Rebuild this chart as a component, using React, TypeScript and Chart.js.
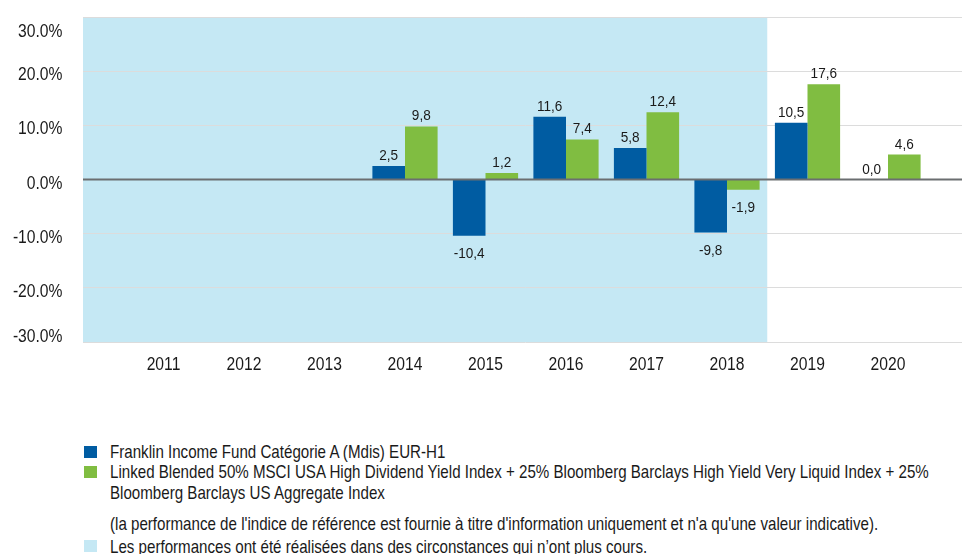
import React, { useEffect, useRef } from "react";
import { Chart, registerables } from "chart.js";

Chart.register(...registerables);

const years = ["", "2011", "2012", "2013", "2014", "2015", "2016", "2017", "2018", "2019", "2020", ""];
const fundValues: (number | null)[] = [null, null, null, null, 2.5, -10.4, 11.6, 5.8, -9.8, 10.5, 0.0, null];
const indexValues: (number | null)[] = [null, null, null, null, 9.8, 1.2, 7.4, 12.4, -1.9, 17.6, 4.6, null];
const shadedUntil = "2018";
const yTicks = [-30, -20, -10, 0, 10, 20, 30];

const fundLabel = "Franklin Income Fund Catégorie A (Mdis) EUR-H1";
const indexLabelLine1 =
  "Linked Blended 50% MSCI USA High Dividend Yield Index + 25% Bloomberg Barclays High Yield Very Liquid Index + 25%";
const indexLabelLine2 = "Bloomberg Barclays US Aggregate Index";
const noteText =
  "(la performance de l'indice de référence est fournie à titre d'information uniquement et n'a qu'une valeur indicative).";
const shadedLabel = "Les performances ont été réalisées dans des circonstances qui n’ont plus cours.";

const BLUE = "#005ca2";
const GREEN = "#80bd41";
const SHADE = "#c5e8f4";
const TEXT = "#1a1a1a";
const FONT = "'Liberation Sans', Arial, Helvetica, sans-serif";
const TICK_FONT = `18px ${FONT}`;
const TICK_SCALE = 0.87;
const VALUE_FONT = `14px ${FONT}`;

function drawText(ctx: CanvasRenderingContext2D, text: string, x: number, y: number, align: CanvasTextAlign, sx: number) {
  ctx.save();
  ctx.translate(x, y);
  ctx.scale(sx, 1);
  ctx.textAlign = align;
  ctx.textBaseline = "alphabetic";
  ctx.fillText(text, 0, 0);
  ctx.restore();
}

const shadePlugin = {
  id: "shade",
  beforeDraw(chart: any) {
    const { ctx, chartArea, scales } = chart;
    const idx = years.indexOf(shadedUntil);
    const xEnd = (scales.x.getPixelForValue(idx) + scales.x.getPixelForValue(idx + 1)) / 2;
    ctx.save();
    ctx.fillStyle = SHADE;
    ctx.fillRect(chartArea.left, chartArea.top, xEnd - chartArea.left, chartArea.bottom - chartArea.top);
    ctx.restore();
  },
};

const zeroLinePlugin = {
  id: "zeroLine",
  afterDatasetsDraw(chart: any) {
    const { ctx, chartArea, scales } = chart;
    const y = scales.y.getPixelForValue(0);
    ctx.save();
    ctx.strokeStyle = "#6b6e70";
    ctx.lineWidth = 2;
    ctx.beginPath();
    ctx.moveTo(chartArea.left, y);
    ctx.lineTo(chartArea.right, y);
    ctx.stroke();
    ctx.restore();
  },
};

const axisLabelPlugin = {
  id: "axisLabels",
  afterDraw(chart: any) {
    const { ctx, chartArea, scales } = chart;
    ctx.save();
    ctx.fillStyle = TEXT;
    ctx.font = TICK_FONT;
    const last = yTicks.length - 1;
    yTicks.forEach((v, i) => {
      const gy = scales.y.getPixelForValue(v);
      let by = gy + 9;
      if (i === last) by = chartArea.top + 19.5;
      if (i === 0) by = chartArea.bottom - 0.5;
      drawText(ctx, v.toFixed(1) + "%", chartArea.left - 20.5, by, "right", TICK_SCALE);
    });
    years.forEach((label, i) => {
      if (!label) return;
      drawText(ctx, label, scales.x.getPixelForValue(i), chartArea.bottom + 27.5, "center", TICK_SCALE);
    });
    ctx.restore();
  },
};

const valueLabelPlugin = {
  id: "valueLabels",
  afterDraw(chart: any) {
    const { ctx } = chart;
    ctx.save();
    ctx.font = VALUE_FONT;
    ctx.fillStyle = TEXT;
    chart.data.datasets.forEach((ds: any, di: number) => {
      const meta = chart.getDatasetMeta(di);
      meta.data.forEach((el: any, i: number) => {
        const v = ds.data[i];
        if (v === null || v === undefined) return;
        const txt = v.toFixed(1).replace(".", ",");
        const y = v >= 0 ? el.y - 6 : el.y + 22.5;
        drawText(ctx, txt, el.x, y, "center", 0.97);
      });
    });
    ctx.restore();
  },
};

export default function App() {
  const canvasRef = useRef<HTMLCanvasElement>(null);

  useEffect(() => {
    if (!canvasRef.current) return;
    const chart = new Chart(canvasRef.current, {
      type: "bar",
      data: {
        labels: years,
        datasets: [
          { label: fundLabel, data: fundValues, backgroundColor: BLUE, borderWidth: 0 },
          { label: indexLabelLine1 + " " + indexLabelLine2, data: indexValues, backgroundColor: GREEN, borderWidth: 0 },
        ],
      },
      options: {
        responsive: false,
        animation: false,
        devicePixelRatio: 1,
        layout: { padding: { top: 17, right: 6.5, bottom: 0, left: 0 } },
        datasets: { bar: { categoryPercentage: 0.81, barPercentage: 1 } },
        plugins: {
          legend: { display: false },
          tooltip: { enabled: false },
        },
        scales: {
          x: {
            offset: false,
            grid: { display: false, drawTicks: false },
            border: { display: false },
            ticks: { display: false, autoSkip: false, maxRotation: 0 },
            afterFit(scale: any) {
              scale.height = 38;
            },
          },
          y: {
            min: yTicks[0],
            max: yTicks[yTicks.length - 1],
            afterFit(scale: any) {
              scale.width = 83;
            },
            afterBuildTicks(scale: any) {
              scale.ticks = yTicks.map((v) => ({ value: v }));
            },
            grid: {
              drawTicks: false,
              color: (c: any) => (c.tick && c.tick.value === 0 ? "rgba(0,0,0,0)" : "#dcdcdc"),
              lineWidth: 1,
            },
            border: { display: false },
            ticks: { display: false },
          },
        },
      },
      plugins: [shadePlugin, zeroLinePlugin, axisLabelPlugin, valueLabelPlugin],
    });
    return () => chart.destroy();
  }, []);

  const textStyle: React.CSSProperties = {
    position: "absolute",
    left: 109.5,
    fontFamily: FONT,
    fontSize: 17.7,
    lineHeight: "20px",
    color: TEXT,
    whiteSpace: "nowrap",
    transform: "scaleX(0.855)",
    transformOrigin: "0 0",
  };
  const sq = (top: number, color: string): React.CSSProperties => ({
    position: "absolute",
    left: 84,
    top,
    width: 12.5,
    height: 12,
    background: color,
  });

  return (
    <div
      style={{
        position: "absolute",
        left: 0,
        top: 0,
        width: 962,
        height: 554,
        overflow: "hidden",
        background: "#fff",
      }}
    >
      <canvas ref={canvasRef} width={975} height={380} style={{ position: "absolute", left: 0, top: 0 }} />
      <div style={sq(446, BLUE)} />
      <div style={{ ...textStyle, top: 441.6 }}>{fundLabel}</div>
      <div style={sq(466, GREEN)} />
      <div style={{ ...textStyle, top: 462.2 }}>{indexLabelLine1}</div>
      <div style={{ ...textStyle, top: 482.9 }}>{indexLabelLine2}</div>
      <div style={{ ...textStyle, top: 513.6 }}>{noteText}</div>
      <div style={sq(540, SHADE)} />
      <div style={{ ...textStyle, top: 536.9 }}>{shadedLabel}</div>
    </div>
  );
}
